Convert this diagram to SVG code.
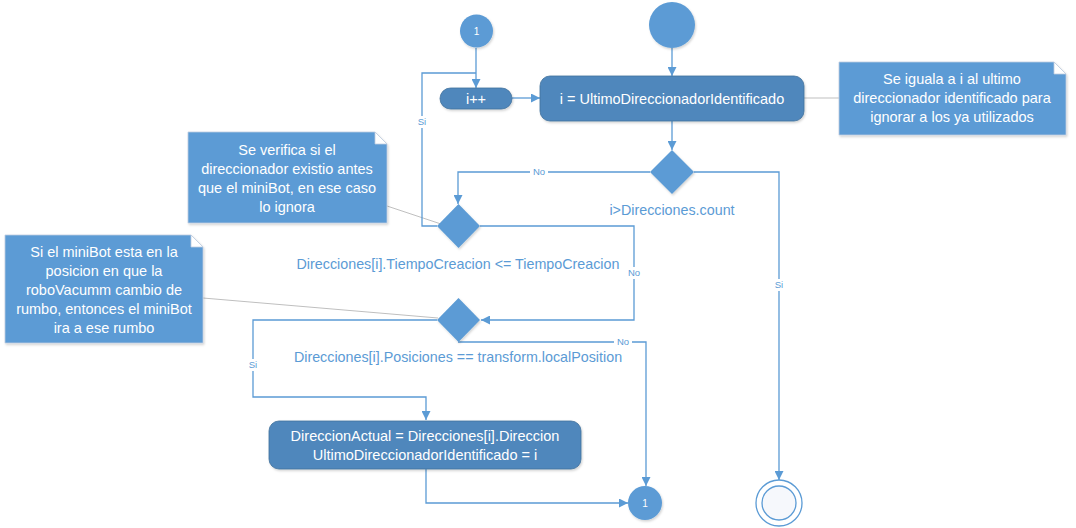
<svg xmlns="http://www.w3.org/2000/svg" width="1076" height="528" viewBox="0 0 1076 528">
<style>
.lbl{font-family:"Liberation Sans",Arial,sans-serif;font-size:14.3px;fill:#5b9bd5;text-anchor:middle}
.wt{font-family:"Liberation Sans",Arial,sans-serif;font-size:14.5px;fill:#ffffff;text-anchor:middle}
.sm{font-family:"Liberation Sans",Arial,sans-serif;font-size:9.5px;fill:#5b9bd5;text-anchor:middle}
.edge{fill:none;stroke:#5b9bd5;stroke-width:1.3}
.note-line{fill:none;stroke:#bfbfbf;stroke-width:1}
.act{fill:#4f87bc;stroke:#41719c;stroke-width:0.8}
.dia{fill:#5b9bd5}
.note{fill:#5b9bd5;stroke:#bfcde0;stroke-width:0.8}
.fold{fill:#ffffff;stroke:#bfcde0;stroke-width:0.8}
.bg{fill:#ffffff}
</style>
<defs>
<marker id="arr" viewBox="0 0 10 10" refX="10" refY="5" markerWidth="9" markerHeight="9" markerUnits="userSpaceOnUse" orient="auto">
<path d="M0,0 L10,5 L0,10 z" fill="#5b9bd5"/>
</marker>
<filter id="sh" x="-20%" y="-20%" width="140%" height="140%">
<feDropShadow dx="1" dy="1.5" stdDeviation="1.2" flood-color="#000" flood-opacity="0.18"/>
</filter>
</defs>
<rect width="1076" height="528" fill="#ffffff"/>

<g id="connectors">
<line class="note-line" x1="804" y1="98" x2="839" y2="98"/>
<line class="note-line" x1="387" y1="206" x2="441" y2="224"/>
<line class="note-line" x1="203" y1="298" x2="438" y2="318"/>
<path class="edge" d="M672,48 V76" marker-end="url(#arr)"/>
<path class="edge" d="M476,48 V88" marker-end="url(#arr)"/>
<path class="edge" d="M437,226 H422 V73 H476"/>
<path class="edge" d="M512,98 H540" marker-end="url(#arr)"/>
<path class="edge" d="M672,121 V150" marker-end="url(#arr)"/>
<path class="edge" d="M650,172 H458 V204" marker-end="url(#arr)"/>
<path class="edge" d="M694,172 H779 V480" marker-end="url(#arr)"/>
<path class="edge" d="M480,226 H634 V320 H481" marker-end="url(#arr)"/>
<path class="edge" d="M458,342 H646 V486" marker-end="url(#arr)"/>
<path class="edge" d="M437,320 H253 V397 H426 V420" marker-end="url(#arr)"/>
<path class="edge" d="M426,469 V503 H628" marker-end="url(#arr)"/>
<rect class="bg" x="414" y="116" width="16" height="12"/>
<text class="sm" x="422" y="125">Si</text>
<rect class="bg" x="530" y="166" width="18" height="12"/>
<text class="sm" x="539" y="175">No</text>
<rect class="bg" x="771" y="279" width="16" height="12"/>
<text class="sm" x="779" y="288">Si</text>
<rect class="bg" x="625" y="267" width="18" height="12"/>
<text class="sm" x="634" y="276">No</text>
<rect class="bg" x="614" y="336" width="18" height="12"/>
<text class="sm" x="623" y="345">No</text>
<rect class="bg" x="245" y="359" width="16" height="12"/>
<text class="sm" x="253" y="368">Si</text>
</g>

<g id="start">
<circle cx="672" cy="25" r="23" fill="#5b9bd5" filter="url(#sh)"/>
</g>

<g id="connector1-top">
<circle cx="476.5" cy="31" r="16.5" fill="#5b9bd5" filter="url(#sh)"/>
<text class="wt" x="476.5" y="35" style="font-size:10px">1</text>
</g>

<g id="inc">
<rect class="act" x="440" y="88" width="72" height="21" rx="10.5" filter="url(#sh)"/>
<text class="wt" x="476" y="103.5">i++</text>
</g>

<g id="assign">
<rect class="act" x="540" y="76" width="264" height="45" rx="10" filter="url(#sh)"/>
<text class="wt" x="672" y="103.5">i = UltimoDireccionadorIdentificado</text>
</g>

<g id="note-right">
<path class="note" d="M839,62 H1054 L1066,74 V135 H839 Z" filter="url(#sh)"/>
<path class="fold" d="M1054,62 V74 H1066 Z"/>
<text class="wt" x="952" y="84">Se iguala a i al ultimo</text>
<text class="wt" x="952" y="103">direccionador identificado para</text>
<text class="wt" x="952" y="122">ignorar a los ya utilizados</text>
</g>

<g id="dec1">
<path class="dia" d="M672,150 L694,172 L672,194 L650,172 Z" filter="url(#sh)"/>
<text class="lbl" x="672" y="215">i&gt;Direcciones.count</text>
</g>

<g id="dec2">
<path class="dia" d="M458.5,204 L480,226 L458.5,248 L437,226 Z" filter="url(#sh)"/>
<text class="lbl" x="458" y="269">Direcciones[i].TiempoCreacion &lt;= TiempoCreacion</text>
</g>

<g id="note-mid">
<path class="note" d="M188,132 H375 L387,144 V223 H188 Z" filter="url(#sh)"/>
<path class="fold" d="M375,132 V144 H387 Z"/>
<text class="wt" x="287" y="155">Se verifica si el</text>
<text class="wt" x="287" y="174">direccionador existio antes</text>
<text class="wt" x="287" y="193">que el miniBot, en ese caso</text>
<text class="wt" x="287" y="212">lo ignora</text>
</g>

<g id="dec3">
<path class="dia" d="M458.5,298 L480,320 L458.5,342 L437,320 Z" filter="url(#sh)"/>
<text class="lbl" x="458" y="362">Direcciones[i].Posiciones == transform.localPosition</text>
</g>

<g id="note-left">
<path class="note" d="M5,235 H191 L203,247 V343 H5 Z" filter="url(#sh)"/>
<path class="fold" d="M191,235 V247 H203 Z"/>
<text class="wt" x="104" y="257">Si el miniBot esta en la</text>
<text class="wt" x="104" y="276">posicion en que la</text>
<text class="wt" x="104" y="295">roboVacumm cambio de</text>
<text class="wt" x="104" y="314">rumbo, entonces el miniBot</text>
<text class="wt" x="104" y="333">ira a ese rumbo</text>
</g>

<g id="update">
<rect class="act" x="269" y="421" width="312" height="48" rx="10" filter="url(#sh)"/>
<text class="wt" x="425" y="441">DireccionActual = Direcciones[i].Direccion</text>
<text class="wt" x="425" y="460">UltimoDireccionadorIdentificado = i</text>
</g>

<g id="connector1-bottom">
<circle cx="645" cy="503" r="17" fill="#5b9bd5" filter="url(#sh)"/>
<text class="wt" x="645" y="507" style="font-size:10px">1</text>
</g>

<g id="end">
<circle cx="779" cy="503" r="23" fill="#ffffff" stroke="#5b9bd5" stroke-width="1.3"/>
<circle cx="779" cy="503" r="17" fill="#f6f8fc" stroke="#5b9bd5" stroke-width="1.3"/>
</g>
</svg>
